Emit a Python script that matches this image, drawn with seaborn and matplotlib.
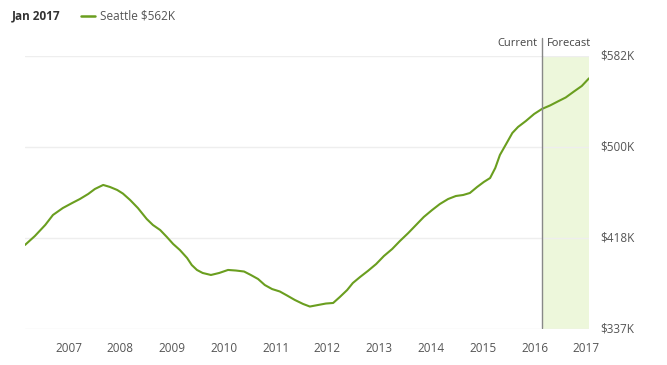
import matplotlib
matplotlib.use("Agg")
import matplotlib.pyplot as plt
import seaborn as sns
import pandas as pd

# ---- data ----
years = [2006.16, 2006.35, 2006.55, 2006.70, 2006.89, 2007.07, 2007.22, 2007.38, 2007.51, 2007.67,
         2007.80, 2007.94, 2008.05, 2008.19, 2008.34, 2008.51, 2008.63, 2008.77, 2008.90, 2009.02,
         2009.15, 2009.29, 2009.38, 2009.48, 2009.59, 2009.75, 2009.91, 2010.08, 2010.23, 2010.39,
         2010.52, 2010.66, 2010.79, 2010.93, 2011.08, 2011.22, 2011.37, 2011.53, 2011.66, 2011.82,
         2011.97, 2012.11, 2012.24, 2012.38, 2012.49, 2012.63, 2012.78, 2012.94, 2013.09, 2013.25,
         2013.40, 2013.56, 2013.71, 2013.86, 2014.02, 2014.17, 2014.33, 2014.48, 2014.62, 2014.75,
         2014.89, 2015.02, 2015.14, 2015.24, 2015.33, 2015.45, 2015.57, 2015.68, 2015.83, 2015.99,
         2016.14, 2016.30, 2016.45, 2016.60, 2016.76, 2016.91, 2017.05]
values = [412.6, 420.6, 430.5, 439.5, 445.7, 450.2, 453.8, 458.3, 462.8, 466.4,
          464.6, 461.9, 458.7, 452.9, 445.7, 435.9, 430.5, 426.0, 419.7, 413.5,
          408.1, 400.9, 394.6, 390.2, 387.5, 385.7, 387.5, 390.2, 389.7, 388.8,
          385.7, 382.1, 376.7, 373.1, 370.9, 367.3, 363.3, 359.7, 357.4, 358.8,
          360.1, 360.6, 366.0, 372.2, 378.5, 383.9, 389.3, 395.5, 402.7, 409.0,
          416.2, 423.3, 430.5, 437.7, 443.9, 449.3, 453.8, 456.5, 457.4, 459.2,
          464.6, 469.1, 472.6, 481.6, 493.3, 503.1, 513.0, 518.4, 523.7, 530.0,
          534.5, 537.7, 541.3, 544.8, 550.2, 555.1, 562.0]
x_ticks = [2007, 2008, 2009, 2010, 2011, 2012, 2013, 2014, 2015, 2016, 2017]
x_labels = ["2007", "2008", "2009", "2010", "2011", "2012", "2013", "2014", "2015", "2016", "2017"]
y_ticks = [337, 418.67, 500.33, 582]
y_labels = ["$337K", "$418K", "$500K", "$582K"]
current_year = 2016.14
series_name = "Seattle $562K"
header = "Jan 2017"

df = pd.DataFrame({"year": years, "value": values})

sns.set_theme(style="white")
plt.rcParams["font.family"] = ["Open Sans", "DejaVu Sans"]

fig = plt.figure(figsize=(6.67, 3.65), dpi=100)
ax = fig.add_axes([25 / 667, 1 - 329.3 / 365, (589 - 25) / 667, (329.3 - 56) / 365])

green = "#6a9e1f"
ax.axvspan(current_year, years[-1], color="#edf7db", zorder=0, lw=0)
for yt in y_ticks:
    ax.axhline(yt, color="#eeeeee", lw=1, zorder=1)

sns.lineplot(data=df, x="year", y="value", ax=ax, color=green, lw=1.5, zorder=3)

ax.set_xlim(years[0], years[-1])
ax.set_ylim(y_ticks[0], y_ticks[-1])
ax.set_xticks(x_ticks)
ax.set_xticklabels(x_labels)
ax.set_yticks(y_ticks)
ax.set_yticklabels(y_labels)
ax.yaxis.tick_right()
ax.tick_params(axis="x", length=0, pad=9, labelsize=8.5, colors="#555555")
ax.tick_params(axis="y", length=0, pad=8, labelsize=8.5, colors="#555555")
for lbl in ax.get_yticklabels():
    lbl.set_verticalalignment("center")
ax.set_xlabel("")
ax.set_ylabel("")
for s in ax.spines.values():
    s.set_visible(False)

# Current / Forecast divider extending above axes
ax.plot([current_year, current_year], [y_ticks[0] + 1, y_ticks[-1]], color="#888888", lw=1, zorder=4)
fig.add_artist(plt.Line2D([542 / 667, 542 / 667], [1 - 38 / 365, 1 - 56 / 365], color="#888888", lw=1))
fig.text(538 / 667, 1 - 44 / 365, "Current", ha="right", va="center", fontsize=8, color="#444444")
fig.text(547 / 667, 1 - 44 / 365, "Forecast", ha="left", va="center", fontsize=8, color="#444444")

# header / legend
fig.text(12 / 667, 1 - 16 / 365, header, ha="left", va="center", fontsize=8.5, fontweight="bold", color="#333333")
fig.add_artist(plt.Line2D([81 / 667, 95 / 667], [1 - 16 / 365, 1 - 16 / 365], color=green, lw=1.8))
fig.text(100 / 667, 1 - 16 / 365, series_name, ha="left", va="center", fontsize=8.5, color="#555555")

fig.savefig("out.png", dpi=100)
